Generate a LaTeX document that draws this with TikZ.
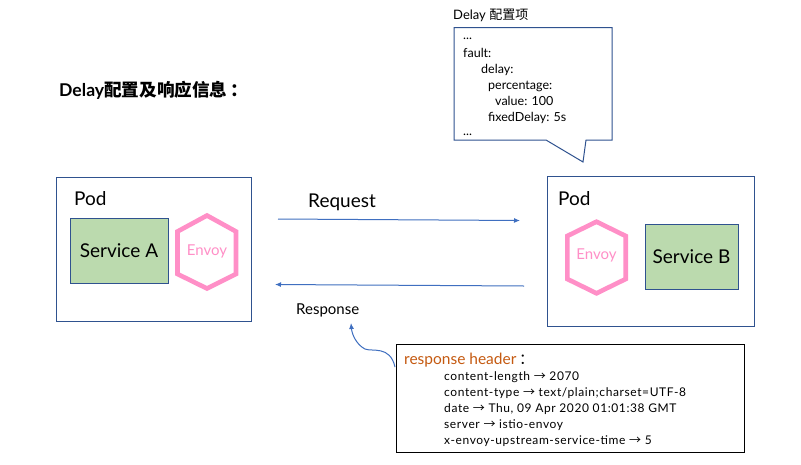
\documentclass[tikz,border=0pt]{standalone}
\usepackage{fontspec}
\setmainfont{Lato}
\newfontfamily\cjk{Noto Sans CJK SC}
\newfontfamily\opn[LetterSpace=5]{Lato}
\newcommand{\harr}{{\cjk →}}
\definecolor{boxblue}{HTML}{2F528F}
\definecolor{arrowblue}{HTML}{3F6FC0}
\definecolor{svcgreen}{HTML}{BBDAAE}
\definecolor{envoypink}{HTML}{FF8FC7}
\definecolor{hdrorange}{HTML}{C55A11}
\usetikzlibrary{shapes.geometric,arrows.meta}
\tikzset{
  podbox/.style={draw=boxblue,line width=1pt,fill=white,minimum width=#1,inner sep=0pt},
  svcbox/.style={draw=boxblue,line width=1pt,fill=svcgreen,inner sep=0pt,font=\fontsize{19}{21}\selectfont},
  envoyhex/.style={draw=envoypink,line width=4.6pt,line join=miter,fill=white},
  envoytxt/.style={text=envoypink,font=\fontsize{15}{17}\selectfont,inner sep=0pt},
  lbl/.style={inner sep=0pt,anchor=base west},
  conn/.style={draw=arrowblue,line width=1pt,-{Latex[length=6pt,width=5pt]}},
  code/.style={inner sep=0pt,anchor=base west,font=\fontsize{12.5}{14}\selectfont},
  hdr/.style={inner sep=0pt,anchor=base west,font=\opn\fontsize{12}{13}\selectfont}
}
\begin{document}
\begin{tikzpicture}[x=1pt,y=-1pt]
\useasboundingbox (0,0) rectangle (801,464);
\fill[white] (0,0) rectangle (801,464);
% title
\node[lbl,font=\fontsize{17.6}{20}\bfseries\selectfont] (title) at (59,96) {Delay{\cjk 配置及响应信息}};
\node[lbl,font=\fontsize{17.6}{20}\bfseries\selectfont] (titlec) at (230,96) {\cjk ：};
% pod A
\node[podbox=195pt,minimum height=144pt] (poda) at (153.5,249) {};
\node[lbl,font=\fontsize{19}{21}\selectfont] (podalbl) at (74,205) {Pod};
\node[svcbox,minimum width=98pt,minimum height=65pt] (sa) at (119,250.5) {Service A};
\draw[envoyhex] (207,215.5) -- (236,231.5) -- (236,274) -- (207,288.5) -- (177.5,274) -- (177.5,231.5) -- cycle;
\node[envoytxt] (ea) at (207,251) {Envoy};
% pod B
\node[podbox=207pt,minimum height=150pt] (podb) at (650.5,251) {};
\node[lbl,font=\fontsize{19}{21}\selectfont] (podblbl) at (558,205) {Pod};
\node[svcbox,minimum width=93pt,minimum height=65pt] (sb) at (691.5,256.5) {Service B};
\draw[envoyhex] (596.5,221.7) -- (625.7,236) -- (625.7,279) -- (596.5,293.3) -- (567.3,279) -- (567.3,236) -- cycle;
\node[envoytxt] (eb) at (596.5,255) {Envoy};
% arrows
\coordinate (rq1) at (278,219);
\coordinate (rq2) at (520,220.5);
\coordinate (rs1) at (524,286);
\coordinate (rs2) at (275,284.5);
\draw[conn] (rq1) -- (rq2);
\draw[conn] (rs1) -- (rs2);
\node[lbl,font=\fontsize{19}{21}\selectfont] (req) at (308,207) {Request};
\node[lbl,font=\fontsize{15}{17}\selectfont] (resp) at (296,314) {Response};
% callout
\node[lbl,font=\fontsize{13}{15}\selectfont] (dl) at (453,19) {Delay {\cjk 配置项}};
\draw[boxblue,line width=1pt,fill=white] (454,27.5) -- (612,27.5) -- (612,140) -- (586,140) -- (583,162) -- (546,140) -- (454,140) -- cycle;
\node[code] (c1) at (463,39) {...};
\node[code] (c2) at (463,57) {fault:};
\node[code] (c3) at (481,73) {delay:};
\node[code] (c4) at (488,89) {percentage:};
\node[code] (c5) at (495,105) {value: 100};
\node[code] (c6) at (488,121) {fixedDelay: 5s};
\node[code] (c7) at (463,135) {...};
% header
\node[draw=black,line width=1pt,fill=white,inner sep=0pt,minimum width=348pt,minimum height=108pt] (hb) at (570.5,398) {};
\node[lbl,text=hdrorange,font=\fontsize{15.5}{17}\selectfont] (h0) at (404,364) {response header};
\node[lbl,font=\fontsize{15}{17}\selectfont] (h0c) at (519,364) {\cjk ：};
\node[hdr] (h1) at (444,380) {content-length \harr\ 2070};
\node[hdr] (h2) at (444,396) {content-type \harr\ text/plain;charset=UTF-8};
\node[hdr] (h3) at (444,412) {date \harr\ Thu, 09 Apr 2020 01:01:38 GMT};
\node[hdr] (h4) at (444,428) {server \harr\ istio-envoy};
\node[hdr] (h5) at (444,444) {x-envoy-upstream-service-time \harr\ 5};
\coordinate (cv) at (395,367);
\draw[conn] (cv) .. controls (390,345) and (372,352) .. (365,349) .. controls (357,345) and (352,335) .. (351,323);
\end{tikzpicture}
\end{document}
